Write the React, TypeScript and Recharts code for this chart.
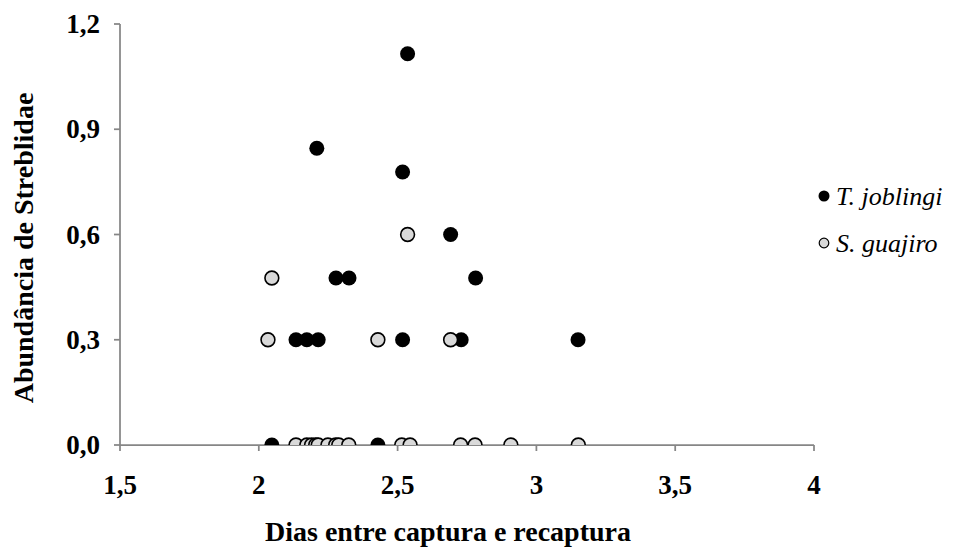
import { ScatterChart, Scatter, XAxis, YAxis, Legend } from "recharts";

// days between capture and recapture vs. streblid abundance, per bat species
const joblingiDays = [2.047, 2.134, 2.173, 2.209, 2.214, 2.278, 2.325, 2.429, 2.518, 2.518, 2.536, 2.691, 2.729, 2.781, 3.15];
const joblingiAbund = [0, 0.3, 0.3, 0.846, 0.3, 0.476, 0.476, 0, 0.778, 0.3, 1.115, 0.6, 0.3, 0.476, 0.3];

const guajiroDays = [2.033, 2.047, 2.134, 2.173, 2.19, 2.205, 2.214, 2.249, 2.277, 2.288, 2.324, 2.429, 2.515, 2.536, 2.545, 2.691, 2.727, 2.779, 2.908, 3.151];
const guajiroAbund = [0.3, 0.476, 0, 0, 0, 0, 0, 0, 0, 0, 0, 0.3, 0, 0.6, 0, 0.3, 0, 0, 0, 0];

const X_TICKS = [1.5, 2, 2.5, 3, 3.5, 4];
const Y_TICKS = [0, 0.3, 0.6, 0.9, 1.2];

const SERIES = [
  { name: "T. joblingi", fill: "#000000", stroke: "#000000" },
  { name: "S. guajiro", fill: "#d9d9d9", stroke: "#000000" },
];

const AXIS = "#868686";
const FONT = "Liberation Serif, Times New Roman, serif";

const toRows = (xs: number[], ys: number[]) => xs.map((x, i) => ({ x, y: ys[i] }));
const fmtX = (v: number) => String(v).replace(".", ",");
const fmtY = (v: number) => v.toFixed(1).replace(".", ",");

function XTick(props: any) {
  const { x, y, payload } = props;
  return (
    <text x={x} y={y + 19} textAnchor="middle" fontFamily={FONT} fontWeight={700} fontSize={27} fill="#000">
      {fmtX(payload.value)}
    </text>
  );
}

function YTick(props: any) {
  const { x, y, payload } = props;
  return (
    <text x={x} y={y + 9} textAnchor="end" fontFamily={FONT} fontWeight={700} fontSize={27} fill="#000">
      {fmtY(payload.value)}
    </text>
  );
}

function BlackDot(props: any) {
  const { cx, cy } = props;
  if (cx == null || cy == null) return null;
  return <circle cx={cx} cy={cy} r={7.5} fill={SERIES[0].fill} />;
}

function GreyDot(props: any) {
  const { cx, cy } = props;
  if (cx == null || cy == null) return null;
  return <circle cx={cx} cy={cy} r={6.9} fill={SERIES[1].fill} stroke={SERIES[1].stroke} strokeWidth={1.6} />;
}

function LegendBox() {
  return (
    <svg width={140} height={100}>
      {SERIES.map((s, i) => (
        <g key={s.name}>
          <circle cx={11} cy={23 + i * 47} r={i === 0 ? 5.5 : 4.8} fill={s.fill} stroke={s.stroke} strokeWidth={i === 0 ? 0 : 1.2} />
          <text x={23} y={32 + i * 47} fontFamily={FONT} fontStyle="italic" fontSize={26} fill="#000">
            {s.name}
          </text>
        </g>
      ))}
    </svg>
  );
}

export default function App() {
  return (
    <div style={{ position: "absolute", left: 0, top: 0, width: 953, height: 554, background: "#fff" }}>
      <ScatterChart width={953} height={554} margin={{ top: 24, right: 139, bottom: 0, left: 0 }}>
        <XAxis
          type="number"
          dataKey="x"
          domain={[1.5, 4]}
          ticks={X_TICKS}
          height={109}
          tickSize={6}
          tickMargin={24}
          axisLine={{ stroke: AXIS, strokeWidth: 1.75 }}
          tickLine={{ stroke: AXIS, strokeWidth: 1.75 }}
          tick={<XTick />}
          allowDataOverflow
          label={{
            content: (p: any) => {
              const vb = p.viewBox || { x: 120, y: 445, width: 694 };
              return (
                <text
                  x={vb.x + vb.width / 2 - 19}
                  y={vb.y + 96}
                  textAnchor="middle"
                  fontFamily={FONT}
                  fontWeight={700}
                  fontSize={28}
                  fill="#000"
                >
                  Dias entre captura e recaptura
                </text>
              );
            },
          }}
        />
        <YAxis
          type="number"
          dataKey="y"
          domain={[0, 1.2]}
          ticks={Y_TICKS}
          width={120}
          tickSize={6}
          tickMargin={14}
          axisLine={{ stroke: AXIS, strokeWidth: 1.75 }}
          tickLine={{ stroke: AXIS, strokeWidth: 1.75 }}
          tick={<YTick />}
          allowDataOverflow
          label={{
            content: () => (
              <text
                x={33}
                y={248}
                transform="rotate(-90, 33, 248)"
                textAnchor="middle"
                fontFamily={FONT}
                fontWeight={700}
                fontSize={28}
                fill="#000"
              >
                Abundância de Streblidae
              </text>
            ),
          }}
        />
        <Legend
          layout="vertical"
          align="center"
          verticalAlign="middle"
          content={() => <LegendBox />}
          wrapperStyle={{ left: 813, top: 173, width: 140, height: 100 }}
        />
        <Scatter
          name={SERIES[0].name}
          data={toRows(joblingiDays, joblingiAbund)}
          fill={SERIES[0].fill}
          shape={BlackDot}
          isAnimationActive={false}
        />
        <Scatter
          name={SERIES[1].name}
          data={toRows(guajiroDays, guajiroAbund)}
          fill={SERIES[1].fill}
          shape={GreyDot}
          isAnimationActive={false}
        />
      </ScatterChart>
    </div>
  );
}
